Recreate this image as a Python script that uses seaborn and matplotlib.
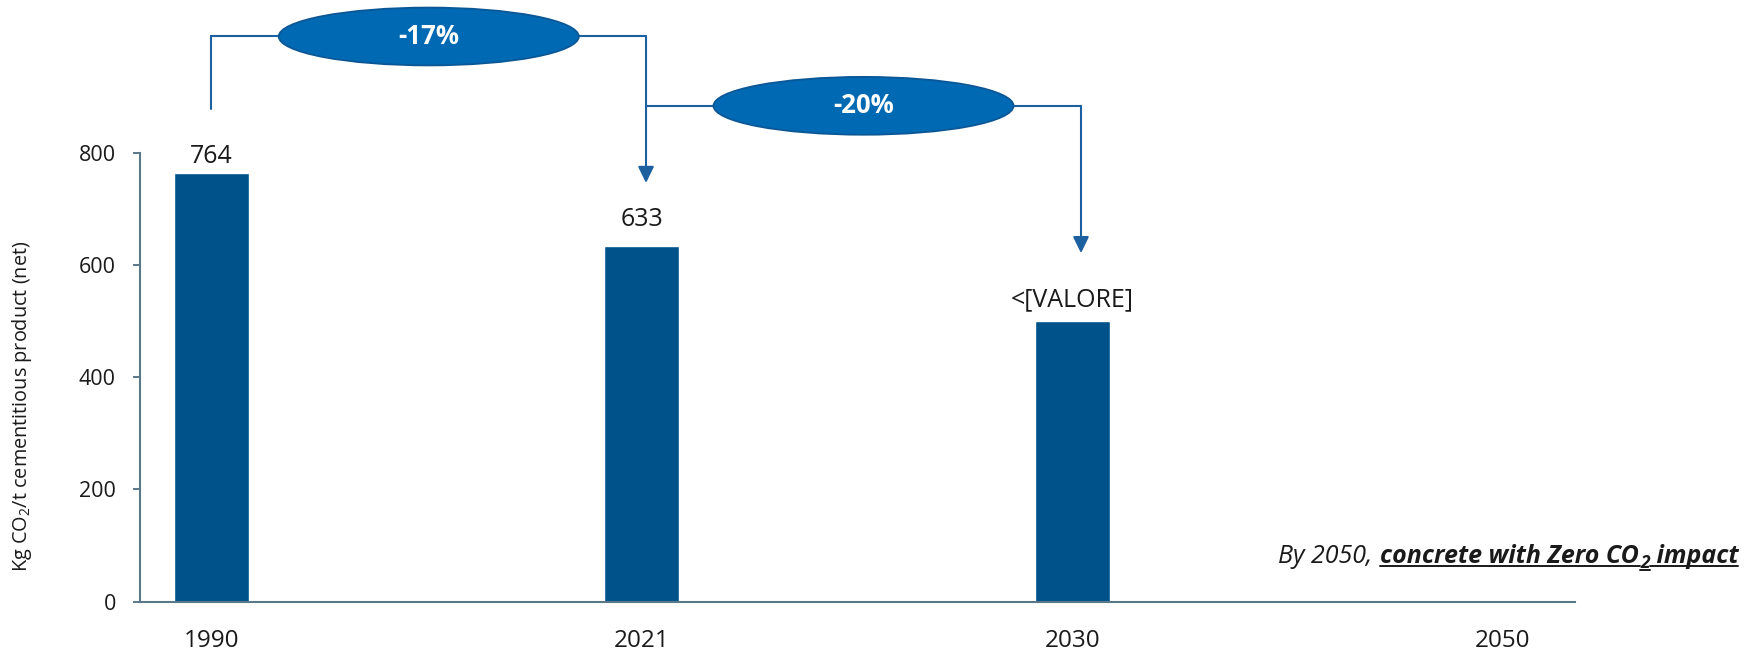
import matplotlib
matplotlib.use("Agg")
import matplotlib.pyplot as plt
from matplotlib.patches import Ellipse
import pandas as pd
import seaborn as sns

# Data
years = ["1990", "2021", "2030", "2050"]
emissions = [764, 633, 500, 0]
value_labels = ["764", "633", "<[VALORE]", ""]
reductions = ["-17%", "-20%"]

BAR_COLOR = "#00538A"
BUBBLE_COLOR = "#0069B4"
LINK_COLOR = "#1D60A0"
AXIS_COLOR = "#5B7888"
TEXT_COLOR = "#1A1A1A"

sns.set_theme(style="white")
plt.rcParams["font.family"] = ["Open Sans", "DejaVu Sans"]
plt.rcParams["mathtext.fontset"] = "custom"
plt.rcParams["mathtext.rm"] = "Open Sans"
plt.rcParams["mathtext.it"] = "Open Sans:italic"
plt.rcParams["mathtext.bf"] = "Open Sans:bold"

df = pd.DataFrame({"year": years, "value": emissions})

fig = plt.figure(figsize=(17.58, 6.53), dpi=100)
ax = fig.add_axes([0.0794, 0.0786, 0.8166, 0.6876])

sns.barplot(data=df, x="year", y="value", order=years, color=BAR_COLOR,
            saturation=1, width=0.174, ax=ax)

ax.set_xlim(-0.167, 3.168)
ax.set_ylim(0, 800)
ax.set_yticks([0, 200, 400, 600, 800])
ax.set_xlabel("")
ax.set_ylabel("Kg CO$_2$/t cementitious product (net)", fontsize=14.3,
              color=TEXT_COLOR)
ax.yaxis.set_label_coords(-0.0737, 0.436)

for side in ("top", "right"):
    ax.spines[side].set_visible(False)
for side in ("left", "bottom"):
    ax.spines[side].set_color(AXIS_COLOR)
    ax.spines[side].set_linewidth(1.5)

ax.tick_params(axis="y", length=5, width=1.4, color=AXIS_COLOR, pad=12,
               labelsize=15.5, labelcolor=TEXT_COLOR, left=True)
ax.tick_params(axis="x", length=0, pad=20, labelsize=17.5,
               labelcolor=TEXT_COLOR)

# Value labels above the bars
label_pads = [7, 14.5, 10.5, 0]
for i, (val, lab, pad) in enumerate(zip(emissions, value_labels, label_pads)):
    if lab:
        ax.annotate(lab, xy=(i, val), xytext=(0, pad), textcoords="offset points",
                    ha="center", va="baseline", fontsize=18, color=TEXT_COLOR)

# Reduction brackets between bars
link_x = [0.0, 1.0095, 2.02]
start_y = [877, 883.5]
top_y = [1007, 883.5]
tip_y = [746, 621]
for k in range(2):
    x0, x1 = link_x[k], link_x[k + 1]
    y_top = top_y[k]
    ax.plot([x0, x0, x1], [start_y[k], y_top, y_top], color=LINK_COLOR, lw=1.5,
            clip_on=False, solid_joinstyle="miter", zorder=3)
    ax.annotate("", xy=(x1, tip_y[k]), xytext=(x1, y_top),
                arrowprops=dict(arrowstyle="-|>,head_length=0.45,head_width=0.22",
                                mutation_scale=22, color=LINK_COLOR, lw=1.5,
                                shrinkA=0, shrinkB=0),
                annotation_clip=False, zorder=3)
    cx = (x0 + x1) / 2
    ell = Ellipse((cx, y_top), width=0.697, height=103, facecolor=BUBBLE_COLOR,
                  edgecolor="#0B5796", lw=1.3, clip_on=False, zorder=4)
    ax.add_patch(ell)
    ax.text(cx, y_top, reductions[k], ha="center", va="center", fontsize=18.5,
            fontweight="bold", color="white", zorder=5, clip_on=False)

# 2050 target statement
renderer = fig.canvas.get_renderer()
W, H = fig.bbox.width, fig.bbox.height
x_px = 1278.0
base_px = H - 563.0
size = 18

def put(txt, x, y, **kw):
    t = fig.text(x / W, y / H, txt, ha="left", va="baseline", color=TEXT_COLOR,
                 style="italic", **kw)
    bb = t.get_window_extent(renderer)
    return t, bb

_, bb = put("By 2050,", x_px, base_px, fontsize=size)
x = bb.x1 + 8
_, bb1 = put("concrete with Zero CO", x, base_px, fontsize=size, fontweight="bold")
x2 = bb1.x1 + 1
_, bb2 = put("2", x2, base_px - 5.5, fontsize=12.5, fontweight="bold")
x3 = bb2.x1
_, bb3 = put("\u00a0impact", x3, base_px, fontsize=size, fontweight="bold")

ul_y = base_px - 2.5
sub_y = base_px - 7
fig.add_artist(plt.Line2D([bb1.x0 / W, x2 / W], [ul_y / H, ul_y / H],
                          color=TEXT_COLOR, lw=1.4))
fig.add_artist(plt.Line2D([x2 / W, x3 / W], [sub_y / H, sub_y / H],
                          color=TEXT_COLOR, lw=1.4))
fig.add_artist(plt.Line2D([x3 / W, bb3.x1 / W], [ul_y / H, ul_y / H],
                          color=TEXT_COLOR, lw=1.4))

fig.savefig("out.png", dpi=100)
